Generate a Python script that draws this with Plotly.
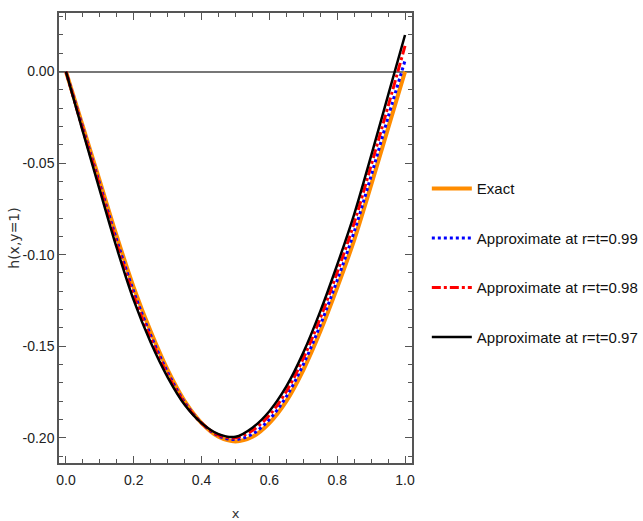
import plotly.graph_objects as go

x_vals = [0.00, 0.05, 0.10, 0.15, 0.20, 0.25, 0.30, 0.35, 0.40, 0.45, 0.50,
          0.55, 0.60, 0.65, 0.70, 0.75, 0.80, 0.85, 0.90, 0.95, 1.00]

exact = [0.0, -0.030, -0.060, -0.090, -0.118, -0.142, -0.163, -0.180, -0.192, -0.1995, -0.202,
         -0.1995, -0.192, -0.180, -0.163, -0.142, -0.118, -0.092, -0.062, -0.031, 0.000]

approx_099 = [0.0, -0.031, -0.0617, -0.0922, -0.1203, -0.144, -0.1643, -0.1807, -0.192, -0.199, -0.201,
              -0.198, -0.190, -0.1775, -0.160, -0.1385, -0.114, -0.0875, -0.057, -0.025, 0.006]

approx_098 = [0.0, -0.032, -0.063, -0.0945, -0.1227, -0.146, -0.1657, -0.1813, -0.192, -0.1985, -0.200,
              -0.196, -0.1877, -0.1747, -0.1567, -0.1347, -0.1097, -0.0827, -0.0513, -0.019, 0.014]

approx_097 = [0.0, -0.033, -0.065, -0.0965, -0.125, -0.148, -0.167, -0.182, -0.192, -0.198, -0.1995,
              -0.1945, -0.1855, -0.172, -0.1535, -0.131, -0.1055, -0.078, -0.046, -0.013, 0.020]

names = ["Exact", "Approximate at r=t=0.99", "Approximate at r=t=0.98", "Approximate at r=t=0.97"]

x_tickvals = [0.0, 0.2, 0.4, 0.6, 0.8, 1.0]
x_ticktext = ["0.0", "0.2", "0.4", "0.6", "0.8", "1.0"]
y_tickvals = [0.0, -0.05, -0.10, -0.15, -0.20]
y_ticktext = ["0.00", "-0.05", "-0.10", "-0.15", "-0.20"]

FONT = "Liberation Sans, Arial, sans-serif"

fig = go.Figure()
series = [
    (exact, names[0], dict(color="#FF8C00", width=4, dash="solid")),
    (approx_099, names[1], dict(color="#0000FF", width=3, dash="dot")),
    (approx_098, names[2], dict(color="#FF0000", width=3, dash="dashdot")),
    (approx_097, names[3], dict(color="#000000", width=2.5, dash="solid")),
]
for i, (ys, nm, ln) in enumerate(series):
    fig.add_trace(go.Scatter(
        x=x_vals, y=ys, name=nm, mode="lines",
        line=dict(shape="spline", smoothing=1.0, **ln),
        legendgroup=f"g{i}",
    ))

axis_common = dict(
    showline=True, linecolor="#555555", linewidth=1.5, mirror="ticks",
    ticks="inside", tickcolor="#555555", tickwidth=1, ticklen=7,
    showgrid=False, automargin=False,
    tickfont=dict(family=FONT, size=14, color="#222222"),
)

fig.update_xaxes(
    range=[-0.0206, 1.0206], tickvals=x_tickvals, ticktext=x_ticktext,
    minor=dict(dtick=0.05, ticks="inside", ticklen=4, tickcolor="#555555", tickwidth=1, showgrid=False),
    zeroline=False,
    ticklabelstandoff=3,
    title=dict(text="x", font=dict(family="DejaVu Sans", size=13, color="#333333"), standoff=25),
    **axis_common,
)
fig.update_yaxes(
    range=[-0.2138, 0.032], tickvals=y_tickvals, ticktext=y_ticktext,
    minor=dict(dtick=0.01, ticks="inside", ticklen=4, tickcolor="#555555", tickwidth=1, showgrid=False),
    zeroline=True, zerolinecolor="#777777", zerolinewidth=2,
    title=dict(text="h(x,y=1)", font=dict(family="DejaVu Sans", size=14, color="#333333"), standoff=0),
    **axis_common,
)

fig.update_layout(
    width=643, height=521, autosize=False,
    margin=dict(l=59, r=231, t=13, b=58, autoexpand=False),
    paper_bgcolor="white", plot_bgcolor="white",
    showlegend=True,
    legend=dict(
        x=1.042, y=0.646, xanchor="left", yanchor="top",
        font=dict(family=FONT, size=15, color="#111111"),
        tracegroupgap=27, itemwidth=40,
        bgcolor="rgba(0,0,0,0)",
    ),
)

fig.write_html(
    "out.html",
    config={"displayModeBar": False},
    post_script="document.body.style.margin='0';document.body.style.padding='0';",
)
